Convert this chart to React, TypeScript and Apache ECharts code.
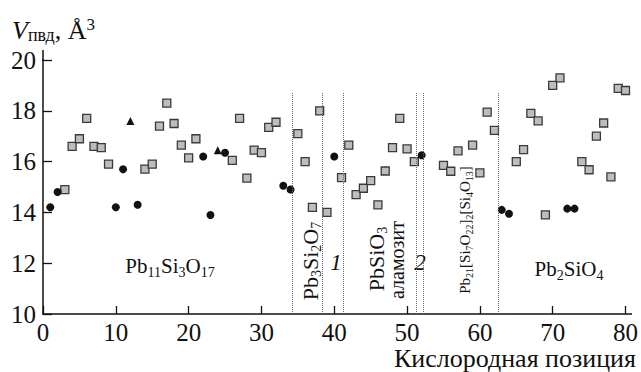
import React, { useEffect, useRef } from "react";
import * as echarts from "echarts";

const squareX = [3, 4, 5, 6, 7, 8, 9, 14, 15, 16, 17, 18, 19, 20, 21, 26, 27, 28, 29, 30, 31, 32, 35, 36, 37, 38, 39, 41, 42, 43, 44, 45, 46, 47, 48, 49, 50, 51, 55, 56, 57, 59, 60, 61, 62, 65, 66, 67, 68, 69, 70, 71, 74, 75, 76, 77, 78, 79, 80];
const squareY = [14.9, 16.6, 16.9, 17.7, 16.6, 16.55, 15.9, 15.7, 15.9, 17.4, 18.3, 17.5, 16.65, 16.15, 16.9, 16.05, 17.7, 15.35, 16.45, 16.35, 17.35, 17.55, 17.1, 16.0, 14.2, 18.0, 14.0, 15.37, 16.65, 14.7, 14.95, 15.25, 14.3, 15.63, 16.55, 17.7, 16.5, 16.0, 15.85, 15.62, 16.42, 16.65, 15.56, 17.95, 17.23, 16.0, 16.47, 17.9, 17.6, 13.9, 19.0, 19.3, 16.0, 15.68, 17.0, 17.52, 15.4, 18.88, 18.8];
const circleX = [1, 2, 10, 11, 13, 22, 23, 25, 33, 34, 40, 52, 63, 64, 72, 73];
const circleY = [14.2, 14.8, 14.2, 15.7, 14.3, 16.2, 13.9, 16.35, 15.05, 14.9, 16.2, 16.25, 14.1, 13.95, 14.15, 14.15];
const triangleX = [12, 24];
const triangleY = [17.6, 16.45];
const boundaries = [34.3, 38.4, 41.3, 51.3, 52.2, 62.5];
const boundaryTop = 18.7;
const xTicks = [0, 10, 20, 30, 40, 50, 60, 70, 80];
const yTicks = [10, 12, 14, 16, 18, 20];

const FONT = "'Liberation Serif', 'Times New Roman', serif";

const zip = (xs: number[], ys: number[]) => xs.map((x, i) => [x, ys[i]]);

export default function App() {
  const ref = useRef<HTMLDivElement>(null);
  useEffect(() => {
    document.body.style.margin = "0";
    const chart = echarts.init(ref.current!, null, { renderer: "svg" });
    const sub = { fontSize: 14, lineHeight: 12, verticalAlign: "bottom", fontFamily: FONT, fill: "#111" };
    const mainRich = (size: number) => ({ fontSize: size, lineHeight: 26, fontFamily: FONT, fill: "#111" });
    const option: any = {
      animation: false,
      backgroundColor: "#fff",
      textStyle: { fontFamily: FONT },
      grid: { left: 43, right: 14, top: 60, bottom: 58, containLabel: false },
      xAxis: {
        type: "value",
        min: xTicks[0],
        max: xTicks[xTicks.length - 1],
        interval: 10,
        axisLine: { lineStyle: { color: "#111", width: 1.5 } },
        axisTick: { inside: true, length: 8, lineStyle: { color: "#111", width: 1.3 } },
        axisLabel: { fontFamily: FONT, fontSize: 25, color: "#111", margin: 6 },
        splitLine: { show: false },
      },
      yAxis: {
        type: "value",
        min: yTicks[0],
        max: yTicks[yTicks.length - 1],
        interval: 2,
        axisLine: { show: true, lineStyle: { color: "#111", width: 1.5 } },
        axisTick: { show: true, inside: true, length: 9, lineStyle: { color: "#111", width: 1.3 } },
        axisLabel: { fontFamily: FONT, fontSize: 25, color: "#111", margin: 7 },
        splitLine: { show: false },
      },
      series: [
        {
          type: "scatter",
          data: zip(squareX, squareY),
          symbol: "rect",
          symbolSize: 8,
          clip: false,
          itemStyle: { color: "#bdbdbd", borderColor: "#3a3a3a", borderWidth: 1.3, opacity: 1 },
          markLine: {
            silent: true,
            symbol: ["none", "none"],
            label: { show: false },
            lineStyle: { color: "#666", width: 1, type: [1, 1] },
            data: boundaries.map((b) => [{ coord: [b, yTicks[0]] }, { coord: [b, boundaryTop] }]),
          },
        },
        {
          type: "scatter",
          data: zip(circleX, circleY),
          symbol: "circle",
          symbolSize: 8,
          clip: false,
          itemStyle: { color: "#111", opacity: 1 },
        },
        {
          type: "scatter",
          data: zip(triangleX, triangleY),
          symbol: "triangle",
          symbolSize: 8,
          clip: false,
          itemStyle: { color: "#111", opacity: 1 },
        },
      ],
      graphic: [
        { type: "line", shape: { x1: 43, y1: 50, x2: 43, y2: 61 }, style: { stroke: "#111", lineWidth: 1.5 } },
        { type: "line", shape: { x1: 626, y1: 314, x2: 632, y2: 314 }, style: { stroke: "#111", lineWidth: 1.5 } },
        {
          type: "text",
          x: 12,
          y: 30,
          style: {
            text: "{v|V}{s|пвд}{m|, Å}{p|3}",
            verticalAlign: "middle",
            align: "left",
            rich: {
              v: { fontSize: 26, fontStyle: "italic", lineHeight: 28, fontFamily: FONT, fill: "#111" },
              s: { fontSize: 18, lineHeight: 12, verticalAlign: "bottom", fontFamily: FONT, fill: "#111" },
              m: { fontSize: 26, lineHeight: 28, fontFamily: FONT, fill: "#111" },
              p: { fontSize: 17, lineHeight: 12, verticalAlign: "top", fontFamily: FONT, fill: "#111" },
            },
          },
        },
        {
          type: "text",
          x: 636,
          y: 358,
          style: { text: "Кислородная позиция", fontFamily: FONT, fontSize: 26, fill: "#111", align: "right", verticalAlign: "middle" },
        },
        {
          type: "text",
          x: 170,
          y: 266,
          style: {
            text: "{a|Pb}{s|11}{a|Si}{s|3}{a|O}{s|17}",
            align: "center",
            verticalAlign: "middle",
            rich: { a: mainRich(21), s: sub },
          },
        },
        {
          type: "text",
          x: 569,
          y: 269,
          style: {
            text: "{a|Pb}{s|2}{a|SiO}{s|4}",
            align: "center",
            verticalAlign: "middle",
            rich: { a: mainRich(21), s: sub },
          },
        },
        {
          type: "text",
          x: 310,
          y: 261,
          rotation: Math.PI / 2,
          style: {
            text: "{a|Pb}{s|3}{a|Si}{s|2}{a|O}{s|7}",
            align: "center",
            verticalAlign: "middle",
            rich: { a: mainRich(22), s: sub },
          },
        },
        {
          type: "text",
          x: 376,
          y: 259,
          rotation: Math.PI / 2,
          style: {
            text: "{a|PbSiO}{s|3}",
            align: "center",
            verticalAlign: "middle",
            rich: { a: mainRich(22), s: sub },
          },
        },
        {
          type: "text",
          x: 397,
          y: 260,
          rotation: Math.PI / 2,
          style: { text: "аламозит", fontFamily: FONT, fontSize: 20, fill: "#111", align: "center", verticalAlign: "middle" },
        },
        {
          type: "text",
          x: 465,
          y: 230,
          rotation: Math.PI / 2,
          style: {
            text: "{a|Pb}{s|21}{a|[Si}{s|7}{a|O}{s|22}{a|]}{s|2}{a|[Si}{s|4}{a|O}{s|13}{a|]}",
            align: "center",
            verticalAlign: "middle",
            rich: {
              a: { fontSize: 15, lineHeight: 18, fontFamily: FONT, fill: "#111" },
              s: { fontSize: 10, lineHeight: 8, verticalAlign: "bottom", fontFamily: FONT, fill: "#111" },
            },
          },
        },
        {
          type: "text",
          x: 336,
          y: 262,
          style: { text: "1", fontFamily: FONT, fontStyle: "italic", fontSize: 23, fill: "#111", align: "center", verticalAlign: "middle" },
        },
        {
          type: "text",
          x: 420,
          y: 262,
          style: { text: "2", fontFamily: FONT, fontStyle: "italic", fontSize: 23, fill: "#111", align: "center", verticalAlign: "middle" },
        },
      ],
    };
    chart.setOption(option);
    return () => chart.dispose();
  }, []);
  return <div ref={ref} style={{ width: 641, height: 372 }} />;
}
